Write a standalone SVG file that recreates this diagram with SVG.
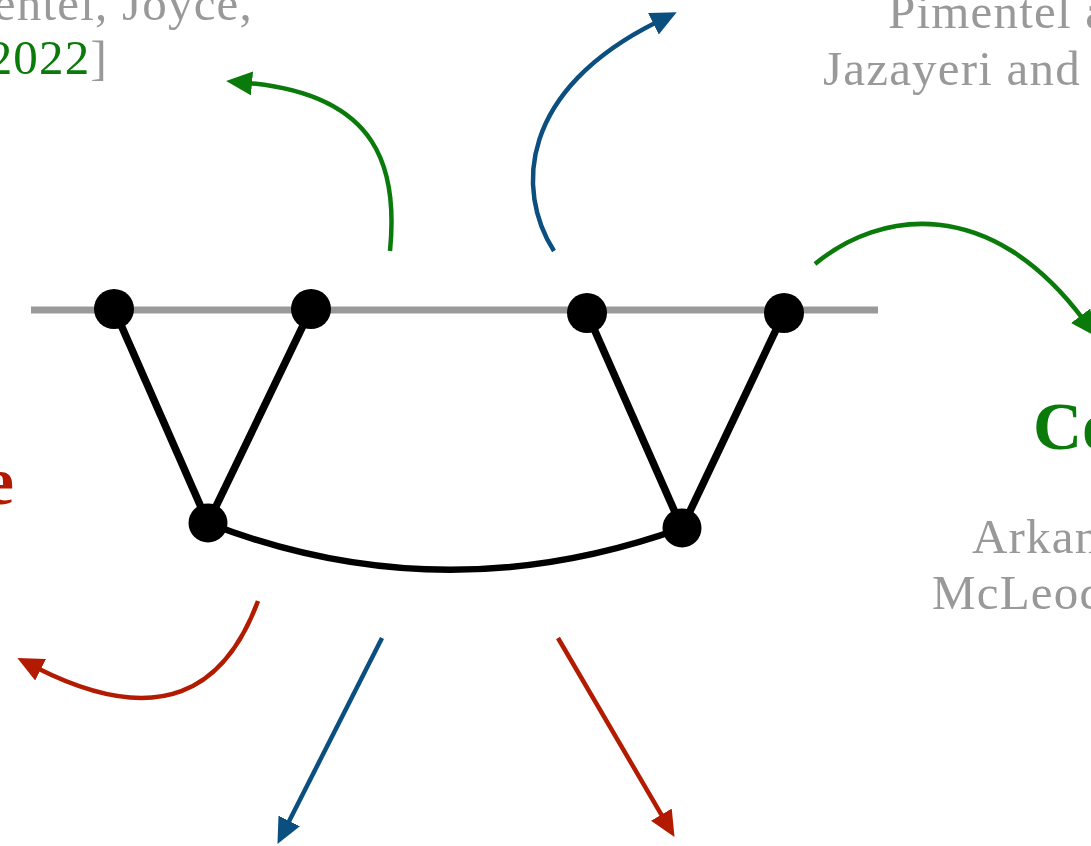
<svg xmlns="http://www.w3.org/2000/svg" width="1091" height="846" viewBox="0 0 1091 846">
<style>
.t{font-family:"Liberation Serif","DejaVu Serif",serif;font-size:49px;fill:#999999;letter-spacing:1.2px}
.h{font-family:"Liberation Serif","DejaVu Serif",serif;font-size:68px;font-weight:bold}
.g{fill:#0a7a0a}
.r{fill:#b31b00}
.edge{stroke:#000;stroke-width:7.5;fill:none;stroke-linecap:butt}
.node{fill:#000}
.arr{fill:none;stroke-width:4.5}
.ag{stroke:#0a7a0a}
.ab{stroke:#0b4f80}
.ar{stroke:#b31b00}
</style>
<defs>
<marker id="mg" markerUnits="userSpaceOnUse" markerWidth="26" markerHeight="24" refX="4" refY="12" orient="auto"><path d="M0,0 L26,12 L0,24 z" fill="#0a7a0a"/></marker>
<marker id="mb" markerUnits="userSpaceOnUse" markerWidth="26" markerHeight="24" refX="4" refY="12" orient="auto"><path d="M0,0 L26,12 L0,24 z" fill="#0b4f80"/></marker>
<marker id="mr" markerUnits="userSpaceOnUse" markerWidth="26" markerHeight="24" refX="4" refY="12" orient="auto"><path d="M0,0 L26,12 L0,24 z" fill="#b31b00"/></marker>
</defs>
<rect width="1091" height="846" fill="#ffffff"/>
<g id="labels">
<text class="t" x="253" y="20" text-anchor="end">entel, Joyce,</text>
<text class="t" x="108" y="74" text-anchor="end"><tspan class="g">2022</tspan>]</text>
<text class="t" x="888" y="28">Pimentel a</text>
<text class="t" x="823" y="85">Jazayeri and</text>
<text class="h g" x="1033" y="449">Co</text>
<text class="h r" x="14" y="504" text-anchor="end">e</text>
<text class="t" x="972" y="553">Arkan</text>
<text class="t" x="932" y="609">McLeod</text>
</g>
<g id="baseline">
<line x1="31" y1="310" x2="878" y2="310" stroke="#999999" stroke-width="7"/>
</g>
<g id="connectors">
<line class="edge" x1="114" y1="309" x2="208" y2="523"/>
<line class="edge" x1="311" y1="309" x2="208" y2="523"/>
<line class="edge" x1="587" y1="313" x2="682" y2="528"/>
<line class="edge" x1="784" y1="313" x2="682" y2="528"/>
<path class="edge" style="stroke-width:6.5" d="M208,523 Q442,614 682,528"/>
</g>
<g id="arrows">
<path class="arr ag" d="M390,251 C398,170 380,95 248,83" marker-end="url(#mg)"/>
<path class="arr ab" d="M554,251 C515,190 520,90 657,22" marker-end="url(#mb)"/>
<path class="arr ag" d="M815,264 C880,210 990,195 1083,319" marker-end="url(#mg)"/>
<path class="arr ar" d="M258,601 C225,690 160,730 37,668" marker-end="url(#mr)"/>
<path class="arr ab" d="M382,638 L287.4,824.5" marker-end="url(#mb)"/>
<path class="arr ar" d="M558,638 L663.4,818.1" marker-end="url(#mr)"/>
</g>
<g id="n1"><circle class="node" cx="114" cy="309" r="20"/></g>
<g id="n2"><circle class="node" cx="311" cy="309" r="20"/></g>
<g id="n3"><circle class="node" cx="587" cy="313" r="20"/></g>
<g id="n4"><circle class="node" cx="784" cy="313" r="20"/></g>
<g id="n5"><circle class="node" cx="208" cy="523" r="19.5"/></g>
<g id="n6"><circle class="node" cx="682" cy="528" r="19.5"/></g>
</svg>
